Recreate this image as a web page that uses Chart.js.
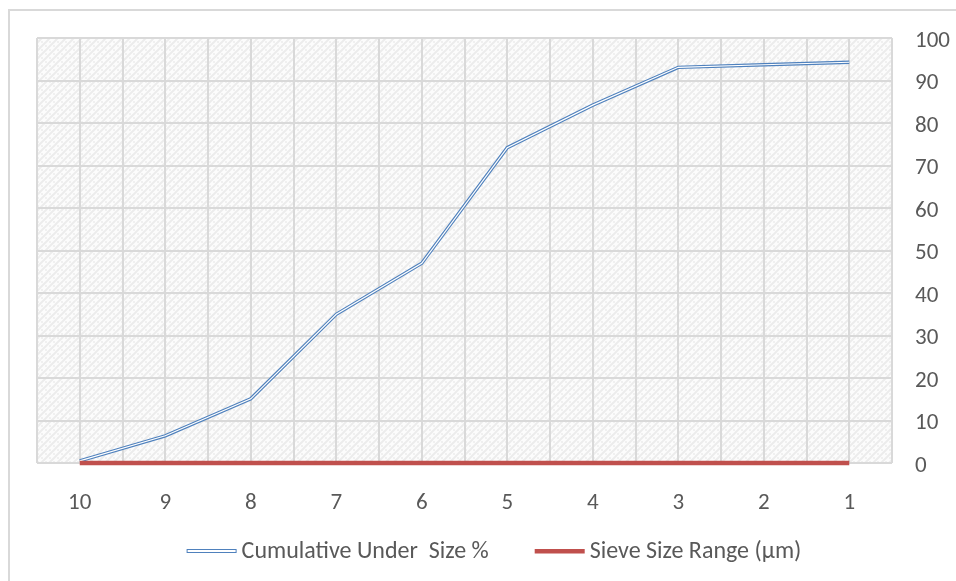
<!DOCTYPE html>
<html>
<head>
<meta charset="utf-8">
<script src="https://cdn.jsdelivr.net/npm/chart.js@4.4.0/dist/chart.umd.min.js"></script>
<style>
  html, body { margin: 0; padding: 0; background: #ffffff; }
  #wrap { position: relative; width: 956px; height: 581px; overflow: hidden; }
  #frame { position: absolute; left: 8px; top: 9px; width: 1200px; height: 1200px;
           border: 2px solid #d9d9d9; box-sizing: border-box; }
  canvas { position: absolute; left: 0; top: 0; }
</style>
</head>
<body>
<div id="wrap">
  <div id="frame"></div>
  <canvas id="chart" width="956" height="581"></canvas>
</div>
<script>
// Sieve positions along the horizontal axis, coarsest to finest
const categories = ['10', '9', '8', '7', '6', '5', '4', '3', '2', '1'];
// Cumulative passing (%) at each sieve
const cumulativeUnder = [0.5, 6.4, 15.1, 35.0, 47.0, 74.2, 84.2, 93.1, 93.7, 94.3];
// Sieve size range series, flat on the baseline
const sieveRange = [0, 0, 0, 0, 0, 0, 0, 0, 0, 0];
// Right-hand axis ticks
const yTicks = [0, 10, 20, 30, 40, 50, 60, 70, 80, 90, 100];

const seriesNames = ['Cumulative Under  Size %', 'Sieve Size Range (\u00b5m)'];
const BLUE = '#4f81bd';
const RED = '#c0504d';
const GRID = '#d9d9d9';
const TEXT = '#595959';
const FONT = 'Carlito, Calibri, Lato, "Open Sans", sans-serif';
const FONT_SIZE = 23;
const LEGEND_FONT_SIZE = 24;

const toPoints = arr => arr.map((v, i) => ({ x: i, y: v }));

// light woven hatch used to fill the plot area
function makeHatch() {
  const c = document.createElement('canvas');
  c.width = 8; c.height = 8;
  const g = c.getContext('2d');
  g.fillStyle = '#fcfcfc';
  g.fillRect(0, 0, 8, 8);
  g.strokeStyle = '#ececec';
  g.lineWidth = 2;
  g.beginPath();
  g.moveTo(-2, 10); g.lineTo(10, -2);
  g.moveTo(-2, 2); g.lineTo(2, -2);
  g.moveTo(6, 10); g.lineTo(10, 6);
  g.stroke();
  g.fillStyle = '#f0f0f0';
  g.fillRect(1, 1, 2, 2);
  g.fillRect(5, 5, 2, 2);
  return g.createPattern(c, 'repeat');
}

// paints the hatch under the grid and the series
const plotBackground = {
  id: 'plotBackground',
  beforeDraw(chart) {
    const { ctx, chartArea: a } = chart;
    ctx.save();
    ctx.fillStyle = makeHatch();
    ctx.fillRect(a.left, a.top, a.right - a.left, a.bottom - a.top);
    ctx.restore();
  }
};

// one-row legend under the axis: line swatch, short gap, series name
const seriesLegend = {
  id: 'seriesLegend',
  afterDraw(chart) {
    const { ctx } = chart;
    const swatch = 50, gap = 5, itemGap = 46, centerX = 494, centerY = 551;
    ctx.save();
    ctx.font = `${LEGEND_FONT_SIZE}px ${FONT}`;
    ctx.textBaseline = 'middle';
    const widths = seriesNames.map(t => ctx.measureText(t).width);
    const total = widths.reduce((s, w) => s + swatch + gap + w, 0) + itemGap * (seriesNames.length - 1);
    let x = centerX - total / 2;
    seriesNames.forEach((name, i) => {
      if (i === 0) {
        ctx.fillStyle = '#ffffff';
        ctx.fillRect(x, centerY - 1.5, swatch, 3);
        ctx.strokeStyle = BLUE;
        ctx.lineWidth = 1;
        ctx.strokeRect(x + 0.5, centerY - 1.5, swatch - 1, 3);
      } else {
        ctx.fillStyle = RED;
        ctx.fillRect(x, centerY - 2, swatch, 4.5);
      }
      x += swatch + gap;
      ctx.fillStyle = TEXT;
      ctx.fillText(name, x, centerY + 1);
      x += widths[i] + itemGap;
    });
    ctx.restore();
  }
};

const ctx = document.getElementById('chart').getContext('2d');
new Chart(ctx, {
  type: 'line',
  data: {
    datasets: [
      {
        label: seriesNames[1],
        data: toPoints(sieveRange),
        borderColor: RED,
        backgroundColor: RED,
        borderWidth: 4.5,
        pointRadius: 0,
        tension: 0,
        clip: 8,
        order: 0
      },
      {
        // white core that gives the cumulative curve its double-line look
        label: '',
        data: toPoints(cumulativeUnder),
        borderColor: '#ffffff',
        borderWidth: 1.2,
        pointRadius: 0,
        tension: 0,
        clip: 8,
        order: 1
      },
      {
        label: seriesNames[0],
        data: toPoints(cumulativeUnder),
        borderColor: BLUE,
        backgroundColor: BLUE,
        borderWidth: 3.4,
        pointRadius: 0,
        tension: 0,
        clip: 8,
        order: 2
      }
    ]
  },
  options: {
    responsive: false,
    animation: false,
    layout: { padding: { left: 37, top: 38, right: 0, bottom: 58 } },
    scales: {
      x: {
        type: 'linear',
        min: -0.5,
        max: categories.length - 0.5,
        border: { display: false },
        grid: { color: GRID, lineWidth: 2, drawTicks: false },
        ticks: {
          stepSize: 0.5,
          autoSkip: false,
          maxRotation: 0,
          padding: 26,
          color: TEXT,
          font: { family: FONT, size: FONT_SIZE },
          callback: v => Number.isInteger(v) ? categories[v] : ''
        },
        afterFit: s => { s.height = 60; }
      },
      y: {
        position: 'right',
        min: yTicks[0],
        max: yTicks[yTicks.length - 1],
        border: { display: false },
        grid: { color: GRID, lineWidth: 2, drawTicks: false },
        afterBuildTicks: s => { s.ticks = yTicks.map(v => ({ value: v })); },
        ticks: {
          padding: 23,
          labelOffset: 3,
          color: TEXT,
          font: { family: FONT, size: FONT_SIZE }
        },
        afterFit: s => { s.width = 64; }
      }
    },
    plugins: {
      legend: { display: false },
      tooltip: { enabled: false }
    }
  },
  plugins: [plotBackground, seriesLegend]
});
</script>
</body>
</html>
